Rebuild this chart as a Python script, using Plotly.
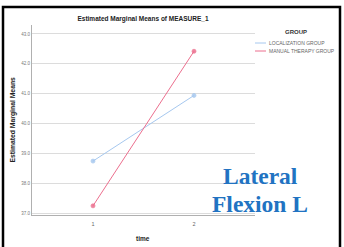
import plotly.graph_objects as go

time_points = ["1", "2"]
groups = ["LOCALIZATION GROUP", "MANUAL THERAPY GROUP"]
localization_means = [38.74, 40.94]
manual_therapy_means = [37.24, 42.42]
series = [localization_means, manual_therapy_means]
colors = ["#a6c8ef", "#ec6f8e"]
y_ticks = [37, 38, 39, 40, 41, 42, 43]

W, H = 344, 247
L, R, T, B = 32, 89, 25, 32
pw, ph = W - L - R, H - T - B

def px(x):
    return (x - L) / pw

def py(y):
    return (H - B - y) / ph

fig = go.Figure()
for name, vals, c in zip(groups, series, colors):
    fig.add_trace(go.Scatter(
        x=[1, 2], y=vals, mode="lines+markers", name=name,
        line=dict(color=c, width=1),
        marker=dict(size=4, color=c, opacity=0.85, line=dict(color=c, width=0.8)),
        showlegend=False,
    ))

fig.update_layout(
    width=W, height=H,
    margin=dict(l=L, r=R, t=T, b=B),
    paper_bgcolor="white", plot_bgcolor="white",
    font=dict(family="Liberation Sans, Arial, sans-serif", color="#333"),
    title=dict(text="<b>Estimated Marginal Means of MEASURE_1</b>",
               x=px(143), xref="paper", y=1 - 19 / H, yref="container",
               xanchor="center", yanchor="middle",
               font=dict(size=6.5, color="#222")),
    xaxis=dict(range=[0.396, 2.604], tickvals=[1, 2], ticktext=time_points,
               showgrid=False, zeroline=False, showline=True,
               linecolor="#b0b0b0", linewidth=1,
               ticks="outside", ticklen=3, tickcolor="white",
               tickfont=dict(size=5.5, color="#666")),
    yaxis=dict(range=[36.933, 43.30], tickvals=y_ticks, tickformat=".1f",
               showgrid=True, gridcolor="#dcdcdc", gridwidth=1,
               zeroline=False, showline=True, linecolor="#b0b0b0", linewidth=1,
               ticks="", tickfont=dict(size=4.5, color="#777")),
)

ann = []
ann.append(dict(text="<b>time</b>", x=px(143), y=py(238), xref="paper", yref="paper",
                showarrow=False, xanchor="center", yanchor="middle",
                font=dict(size=6.5, color="#222")))
ann.append(dict(text="<b>Estimated Marginal Means</b>", x=px(12.5), y=py(120),
                xref="paper", yref="paper", showarrow=False, textangle=-90,
                xanchor="center", yanchor="middle",
                font=dict(size=6.8, color="#222")))
ann.append(dict(text="<b>GROUP</b>", x=px(296), y=py(32), xref="paper", yref="paper",
                showarrow=False, xanchor="center", yanchor="middle",
                font=dict(size=6, color="#333")))
shapes = []
for i, (name, c) in enumerate(zip(groups, colors)):
    yy = 43 + 8 * i
    shapes.append(dict(type="line", xref="paper", yref="paper",
                       x0=px(255), x1=px(266), y0=py(yy), y1=py(yy),
                       line=dict(color=c, width=1)))
    ann.append(dict(text=name, x=px(267), y=py(yy), xref="paper", yref="paper",
                    showarrow=False, xanchor="left", yanchor="middle",
                    font=dict(size=5, color="#666")))

for txt, yy in [("Lateral", 176), ("Flexion L", 204)]:
    ann.append(dict(text="<b>" + txt + "</b>", x=px(260), y=py(yy),
                    xref="paper", yref="paper", showarrow=False,
                    xanchor="center", yanchor="middle",
                    font=dict(size=23.5, color="#2173c2",
                              family="Liberation Serif, DejaVu Serif, serif")))

# outer frame
shapes.append(dict(type="path", xref="paper", yref="paper",
                   path=f"M {px(3)} {py(252)} L {px(3)} {py(7)} L {px(340)} {py(7)} L {px(340)} {py(252)}",
                   line=dict(color="black", width=2.5)))

fig.update_layout(annotations=ann, shapes=shapes)
fig.write_html("out.html", config={"displayModeBar": False},
               post_script="document.body.style.margin='0';document.body.style.padding='0';document.body.style.overflow='hidden';")
